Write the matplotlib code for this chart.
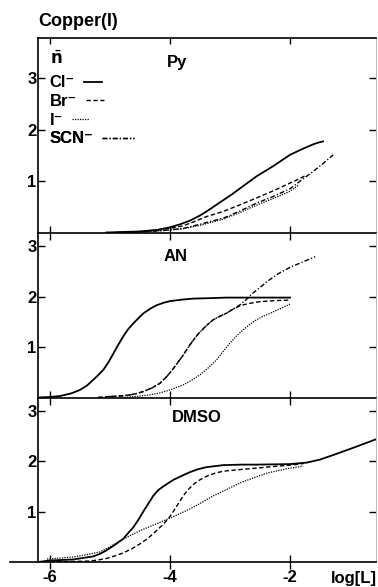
import matplotlib
matplotlib.use("Agg")
import matplotlib.pyplot as plt
from matplotlib.lines import Line2D

plt.rcParams['font.family'] = ['Liberation Sans', 'DejaVu Sans']
plt.rcParams['mathtext.fontset'] = 'dejavusans'

# ---------------- data ----------------
panel_names = ["Py", "AN", "DMSO"]
ligand_keys = ["Cl", "Br", "I", "SCN"]
ligand_labels = ["Cl\u207b", "Br\u207b", "I\u207b", "SCN\u207b"]
xticks = [-6, -4, -2]
yticks = [1, 2, 3]

# Py
py_cl_x = [-5.06, -4.8, -4.5, -4.22, -4.0, -3.83, -3.67, -3.5, -3.39, -3.25, -3.11, -2.97, -2.83, -2.7, -2.56,
           -2.42, -2.28, -2.14, -2.0, -1.89, -1.78, -1.68, -1.6, -1.52, -1.45]
py_cl_n = [0.0, 0.01, 0.02, 0.05, 0.1, 0.16, 0.23, 0.33, 0.41, 0.52, 0.63, 0.74, 0.86, 0.97, 1.09,
           1.19, 1.29, 1.4, 1.51, 1.57, 1.63, 1.68, 1.72, 1.75, 1.77]
py_br_x = [-4.9, -4.6, -4.3, -4.0, -3.78, -3.6, -3.39, -3.11, -2.83, -2.56, -2.28, -2.0, -1.85, -1.72]
py_br_n = [0.0, 0.01, 0.04, 0.08, 0.13, 0.21, 0.31, 0.41, 0.54, 0.67, 0.81, 0.96, 1.04, 1.12]
py_i_x = [-4.7, -4.4, -4.1, -3.8, -3.5, -3.11, -2.83, -2.56, -2.28, -2.0, -1.85]
py_i_n = [0.0, 0.02, 0.04, 0.07, 0.14, 0.26, 0.39, 0.53, 0.66, 0.8, 0.93]
py_scn_x = [-4.8, -4.5, -4.2, -4.0, -3.78, -3.5, -3.11, -2.83, -2.56, -2.28, -2.0, -1.83, -1.6, -1.45, -1.28]
py_scn_n = [0.0, 0.01, 0.03, 0.05, 0.08, 0.16, 0.28, 0.42, 0.57, 0.7, 0.85, 1.0, 1.2, 1.34, 1.51]

# AN
an_cl_x = [-6.2, -6.0, -5.83, -5.65, -5.5, -5.38, -5.28, -5.2, -5.11, -5.02, -4.94, -4.86, -4.78, -4.7, -4.61,
           -4.52, -4.44, -4.33, -4.22, -4.1, -4.0, -3.8, -3.61, -3.3, -3.06, -2.5, -2.0]
an_cl_n = [0.0, 0.01, 0.03, 0.08, 0.15, 0.24, 0.35, 0.44, 0.55, 0.71, 0.88, 1.05, 1.21, 1.35, 1.47,
           1.58, 1.67, 1.76, 1.83, 1.88, 1.91, 1.94, 1.96, 1.97, 1.98, 1.98, 1.98]
an_br_x = [-5.2, -4.99, -4.83, -4.67, -4.55, -4.44, -4.3, -4.17, -4.05, -3.94, -3.86, -3.78, -3.7, -3.61, -3.53,
           -3.44, -3.36, -3.28, -3.17, -3.06, -2.95, -2.83, -2.7, -2.5, -2.25, -2.0]
an_br_n = [0.0, 0.02, 0.03, 0.05, 0.08, 0.12, 0.19, 0.28, 0.42, 0.58, 0.71, 0.84, 0.99, 1.14, 1.26,
           1.37, 1.46, 1.54, 1.61, 1.67, 1.75, 1.82, 1.86, 1.9, 1.92, 1.93]
an_i_x = [-4.8, -4.56, -4.35, -4.17, -4.0, -3.78, -3.64, -3.5, -3.36, -3.22, -3.11, -3.0, -2.89, -2.78, -2.67,
          -2.56, -2.45, -2.33, -2.2, -2.0]
an_i_n = [0.0, 0.02, 0.05, 0.09, 0.15, 0.25, 0.34, 0.45, 0.59, 0.75, 0.92, 1.08, 1.22, 1.34, 1.45,
          1.54, 1.61, 1.67, 1.74, 1.85]
an_scn_x = [-5.2, -4.99, -4.83, -4.67, -4.55, -4.44, -4.3, -4.17, -4.05, -3.94, -3.86, -3.78, -3.7, -3.61, -3.53,
            -3.44, -3.36, -3.28, -3.17, -3.06, -2.95, -2.83, -2.72, -2.64, -2.5, -2.38, -2.2, -2.0, -1.8, -1.58]
an_scn_n = [0.0, 0.02, 0.03, 0.05, 0.08, 0.12, 0.19, 0.28, 0.42, 0.58, 0.71, 0.84, 0.99, 1.14, 1.26,
            1.37, 1.46, 1.54, 1.61, 1.67, 1.75, 1.84, 1.95, 2.05, 2.18, 2.3, 2.45, 2.58, 2.68, 2.79]

# DMSO
dm_cl_x = [-6.67, -6.2, -6.0, -5.8, -5.61, -5.45, -5.28, -5.17, -5.06, -4.92, -4.78, -4.7, -4.61, -4.52, -4.44,
           -4.36, -4.28, -4.2, -4.11, -4.02, -3.94, -3.8, -3.67, -3.53, -3.39, -3.11, -2.8, -2.56, -2.0, -1.72,
           -1.5, -1.28, -1.0, -0.75, -0.55]
dm_cl_n = [0.0, 0.0, 0.03, 0.04, 0.05, 0.08, 0.11, 0.16, 0.23, 0.34, 0.46, 0.57, 0.69, 0.85, 1.01,
           1.16, 1.31, 1.42, 1.5, 1.57, 1.63, 1.71, 1.78, 1.84, 1.88, 1.92, 1.93, 1.93, 1.94, 1.97,
           2.03, 2.12, 2.24, 2.35, 2.44]
dm_br_x = [-6.0, -5.6, -5.33, -5.2, -5.06, -4.92, -4.78, -4.64, -4.5, -4.39, -4.28, -4.2, -4.11, -4.02, -3.94,
           -3.86, -3.78, -3.7, -3.61, -3.5, -3.39, -3.25, -3.11, -2.85, -2.56, -2.3, -2.0, -1.78]
dm_br_n = [0.0, 0.01, 0.02, 0.04, 0.07, 0.12, 0.18, 0.26, 0.36, 0.45, 0.56, 0.65, 0.75, 0.87, 1.01,
           1.16, 1.31, 1.43, 1.54, 1.63, 1.7, 1.76, 1.8, 1.83, 1.86, 1.89, 1.92, 1.95]
dm_i_x = [-6.05, -5.8, -5.61, -5.4, -5.17, -5.0, -4.83, -4.67, -4.5, -4.28, -4.06, -3.87, -3.67, -3.47, -3.28,
          -3.05, -2.83, -2.6, -2.39, -2.2, -2.0, -1.78]
dm_i_n = [0.06, 0.08, 0.1, 0.14, 0.2, 0.3, 0.42, 0.52, 0.62, 0.73, 0.84, 0.94, 1.05, 1.18, 1.31,
          1.44, 1.57, 1.67, 1.76, 1.81, 1.86, 1.9]

panels = [
    {"Cl": (py_cl_x, py_cl_n), "Br": (py_br_x, py_br_n), "I": (py_i_x, py_i_n), "SCN": (py_scn_x, py_scn_n)},
    {"Cl": (an_cl_x, an_cl_n), "Br": (an_br_x, an_br_n), "I": (an_i_x, an_i_n), "SCN": (an_scn_x, an_scn_n)},
    {"Cl": (dm_cl_x, dm_cl_n), "Br": (dm_br_x, dm_br_n), "I": (dm_i_x, dm_i_n)},
]

# ---------------- styles ----------------
styles = {
    "Cl": dict(ls="-", lw=1.3),
    "Br": dict(ls=(0, (3.2, 1.8)), lw=1.0),
    "I": dict(ls=(0, (1.0, 1.0)), lw=0.9),
    "SCN": dict(ls=(0, (3.5, 1.5, 0.9, 1.5)), lw=1.0),
}
handle_len = {"Cl": 1.1, "Br": 1.1, "I": 1.0, "SCN": 1.9}

W, H = 378, 587
fig = plt.figure(figsize=(W / 100, H / 100), dpi=100)

left_px, right_px = 38, 376
bounds_px = [(38, 232.5), (232.5, 397.5), (397.5, 562)]
ytops = [3.78, 3.27, 3.26]
xlim = (-6.2, -0.567)

bold = dict(fontweight="bold")
axes = []
for i, ((t, b), ytop) in enumerate(zip(bounds_px, ytops)):
    ax = fig.add_axes([left_px / W, 1 - b / H, (right_px - left_px) / W, (b - t) / H])
    ax.set_xlim(*xlim)
    ax.set_ylim(0, ytop)
    for key, (xs, ns) in panels[i].items():
        ax.plot(xs, ns, color="black", solid_joinstyle="round", **styles[key])
    ax.set_yticks(yticks)
    ax.set_yticklabels([str(v) for v in yticks], fontsize=12, fontweight="bold")
    ax.tick_params(axis="y", which="both", left=True, right=True, direction="in", length=5, width=1.0, pad=1)
    ax.set_xticks(xticks)
    ax.tick_params(axis="x", direction="inout", length=10, width=1.0, top=False, labelbottom=False)
    ax.spines["right"].set_color("#b0b0b0")
    ax.spines["right"].set_linewidth(0.6)
    for s in ["left", "bottom", "top"]:
        ax.spines[s].set_linewidth(1.2)
    if i > 0:
        ax.spines["top"].set_visible(False)
    ax.patch.set_alpha(0)
    axes.append(ax)

# top panel: top ticks inward
sec = axes[0].secondary_xaxis("top")
sec.set_xticks(xticks)
sec.tick_params(direction="in", length=4, width=1.0, labeltop=False)
sec.spines["top"].set_visible(False)

# bottom panel
axb = axes[2]
axb.tick_params(axis="x", labelbottom=True, labelsize=12, pad=1)
axb.set_xticklabels([str(v) for v in xticks], fontweight="bold")
axb.add_line(Line2D([-6.67, xlim[0]], [0, 0], color="black", lw=1.2,
                    transform=axb.get_xaxis_transform(), clip_on=False))

# panel labels
axes[0].text(-3.88, 3.31, "Py", fontsize=12, **bold, ha="center", va="center")
axes[1].text(-3.9, 2.8, "AN", fontsize=12, **bold, ha="center", va="center")
axes[2].text(-3.55, 2.86, "DMSO", fontsize=12, **bold, ha="center", va="center")

# n-bar label
axes[0].text(-5.9, 3.38, r"$\bar{\mathbf{n}}$", fontsize=12, ha="center", va="center")

# legend: one row per ligand, label first, left-aligned
row_y = [0.769, 0.676, 0.578, 0.481]
for key, lab, yy in zip(ligand_keys, ligand_labels, row_y):
    h = Line2D([], [], color="black", **styles[key])
    lg = axes[0].legend([h], [lab], loc="center left", bbox_to_anchor=(0.034, yy),
                        frameon=False, markerfirst=False, handlelength=handle_len[key],
                        handletextpad=0.55, borderaxespad=0, borderpad=0,
                        prop=dict(weight="bold", size=12))
    axes[0].add_artist(lg)

fig.text(38 / W, 1 - 22 / H, "Copper(I)", fontsize=13, fontweight="bold", ha="left", va="center")
fig.text(377 / W, 1 - 578 / H, "log[L]", fontsize=12, fontweight="bold", ha="right", va="center")

fig.savefig("out.png", dpi=100, facecolor="white")
